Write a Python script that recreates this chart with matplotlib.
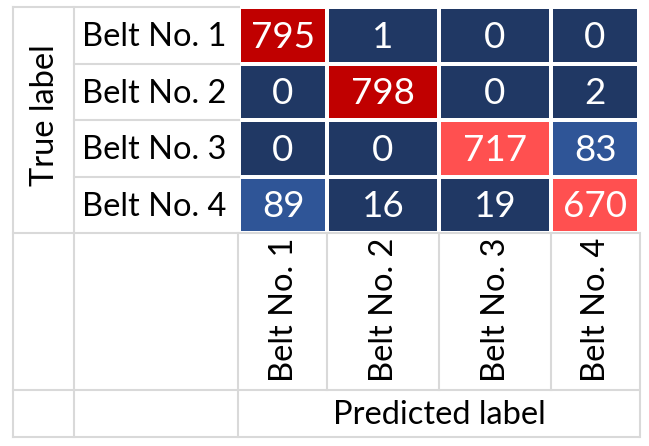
import numpy as np
import matplotlib
matplotlib.use("Agg")
import matplotlib.pyplot as plt
from matplotlib.colors import ListedColormap, BoundaryNorm

classes = ["Belt No. 1", "Belt No. 2", "Belt No. 3", "Belt No. 4"]
cm = np.array([[795, 1, 0, 0],
               [0, 798, 0, 2],
               [0, 0, 717, 83],
               [89, 16, 19, 670]])

# excel style colour bands
band_edges = [0, 50, 500, 750, 1000]
band_colors = ["#203864", "#2F5597", "#FF5050", "#C00000"]

plt.rcParams['font.family'] = ['Lato', 'DejaVu Sans']

fig = plt.figure(figsize=(6.49, 4.46), dpi=100)
ax = fig.add_axes([0, 0, 1, 1])
ax.set_xlim(0, 649)
ax.set_ylim(446, 0)
ax.axis("off")

# table layout in pixels
xe = np.array([239, 327, 439, 551, 639])
ye = np.array([7, 63.5, 120, 176.5, 233])
x0, x1 = 13, 74
y_lab = 390
y_bot = 437
grid = "#d9d9d9"
lw = 1.5
fs = 23.5

cmap = ListedColormap(band_colors)
norm = BoundaryNorm(band_edges, cmap.N)
ax.pcolormesh(xe, ye, cm, cmap=cmap, norm=norm, edgecolors="white", linewidth=1.6)

# grid lines of the surrounding table
ax.plot([x0, xe[0]], [ye[0], ye[0]], color=grid, lw=lw)
for y in ye[1:-1]:
    ax.plot([x1, xe[0]], [y, y], color=grid, lw=lw)
for y in [ye[-1], y_lab, y_bot]:
    ax.plot([x0, xe[-1]], [y, y], color=grid, lw=lw)
for x in [x0, x1]:
    ax.plot([x, x], [ye[0], y_bot], color=grid, lw=lw)
ax.plot([xe[0] - 1, xe[0] - 1], [ye[-1], y_bot], color=grid, lw=lw)
for x in xe[1:-1]:
    ax.plot([x, x], [ye[-1], y_lab], color=grid, lw=lw)
ax.plot([xe[-1] + 1, xe[-1] + 1], [ye[-1], y_bot], color=grid, lw=lw)

# values
for i in range(cm.shape[0]):
    for j in range(cm.shape[1]):
        ax.text((xe[j] + xe[j + 1]) / 2, (ye[i] + ye[i + 1]) / 2 + 2, str(cm[i, j]),
                ha="center", va="center", color="white", fontsize=26.5)

# row labels
for i, c in enumerate(classes):
    ax.text(x1 + 8, (ye[i] + ye[i + 1]) / 2 + 2, c, ha="left", va="center", fontsize=fs)

# column labels
for j, c in enumerate(classes):
    ax.text((xe[j] + xe[j + 1]) / 2 + 1, y_lab - 8, c, ha="center", va="bottom",
            rotation=90, fontsize=fs)

ax.text((x0 + x1) / 2 + 1, (ye[0] + ye[-1]) / 2 - 5, "True label", ha="center", va="center",
        rotation=90, fontsize=fs)
ax.text((xe[0] + xe[-1]) / 2, (y_lab + y_bot) / 2 + 1, "Predicted label", ha="center",
        va="center", fontsize=fs)

fig.savefig("out.png", dpi=100)
